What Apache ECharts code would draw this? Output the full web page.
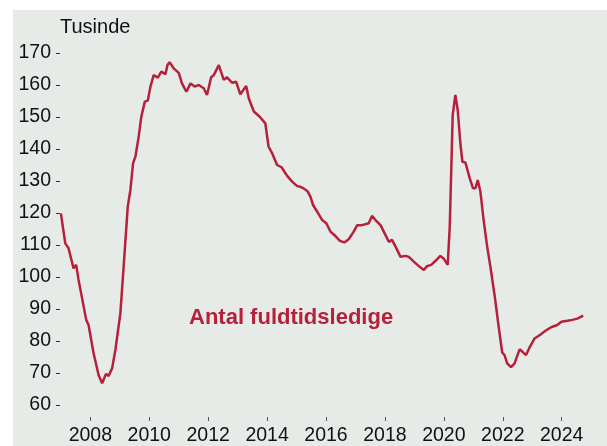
<!DOCTYPE html>
<html>
<head>
<meta charset="utf-8">
<script src="https://cdn.jsdelivr.net/npm/echarts@6/dist/echarts.min.js"></script>
<style>
html,body{margin:0;padding:0;background:#fff;}
#chart{width:607px;height:446px;}
</style>
</head>
<body>
<div id="chart"></div>
<script>
// Decimal year of each observation
var years = [
2007.00,2007.15,2007.26,2007.43,2007.52,2007.60,2007.86,2007.94,2008.11,2008.28,
2008.40,2008.45,2008.53,2008.62,2008.74,2008.85,2009.02,2009.13,2009.27,2009.36,
2009.45,2009.53,2009.64,2009.73,2009.85,2009.95,2010.04,2010.15,2010.20,2010.29,
2010.41,2010.47,2010.55,2010.62,2010.69,2010.83,2011.00,2011.11,2011.26,2011.40,
2011.54,2011.68,2011.85,2011.96,2012.10,2012.19,2012.36,2012.53,2012.64,2012.81,
2012.95,2013.09,2013.29,2013.38,2013.55,2013.75,2013.94,2014.05,2014.17,2014.34,
2014.49,2014.68,2014.85,2015.02,2015.13,2015.24,2015.38,2015.47,2015.56,2015.70,
2015.87,2016.01,2016.15,2016.32,2016.47,2016.62,2016.77,2016.94,2017.06,2017.22,
2017.45,2017.56,2017.68,2017.85,2018.02,2018.13,2018.24,2018.36,2018.53,2018.70,
2018.81,2018.98,2019.15,2019.32,2019.43,2019.57,2019.71,2019.88,2019.99,2020.13,
2020.20,2020.30,2020.39,2020.47,2020.56,2020.63,2020.73,2020.88,2020.99,2021.07,
2021.15,2021.24,2021.35,2021.47,2021.58,2021.73,2021.86,2021.98,2022.06,2022.15,
2022.28,2022.40,2022.57,2022.66,2022.79,2022.92,2023.08,2023.26,2023.45,2023.64,
2023.85,2023.99,2024.19,2024.36,2024.53,2024.73
];
// Antal fuldtidsledige, tusinde
var ledige = [
119.9,110.5,109.0,102.7,103.8,99.1,86.6,85.0,76.2,69.4,
66.8,66.7,69.7,69.1,71.5,77.2,88.7,103.2,122.0,127.2,
135.5,137.6,143.8,150.1,154.8,155.1,159.5,163.1,163.4,162.3,
164.2,164.4,163.4,166.3,167.1,165.2,163.8,160.5,157.9,160.5,
159.5,160.0,159.0,156.9,162.4,163.1,166.2,161.6,162.4,160.7,
161.0,157.1,159.7,155.8,151.7,150.1,148.0,140.7,138.7,135.0,
134.3,131.6,129.8,128.4,128.2,127.7,126.7,125.1,122.5,120.4,
117.8,116.8,114.2,112.8,111.3,110.8,111.8,114.2,116.2,116.2,
116.8,119.1,117.8,116.2,113.1,111.0,111.6,109.5,106.3,106.6,
106.3,104.8,103.4,102.2,103.4,103.8,105.0,106.6,105.8,103.8,
115.7,150.6,156.9,152.2,141.8,136.0,135.8,130.8,127.7,127.7,
130.3,126.7,117.8,109.5,103.2,93.8,84.5,76.4,75.6,73.0,
71.8,73.0,77.4,76.7,75.6,78.2,80.8,81.9,83.2,84.3,
85.0,86.0,86.3,86.6,87.0,87.9
];
var xTicks = [2008,2010,2012,2014,2016,2018,2020,2022,2024];
var yTicks = [60,70,80,90,100,110,120,130,140,150,160,170];
var unitLabel = 'Tusinde';
var seriesLabel = 'Antal fuldtidsledige';

var RED = '#b5203a';
var FONT = '"Liberation Sans", Arial, Helvetica, sans-serif';

var data = years.map(function(y, i){ return [y, ledige[i]]; });

var chart = echarts.init(document.getElementById('chart'), null, {renderer:'canvas'});
chart.setOption({
  backgroundColor: '#e7ebe8',
  animation: false,
  textStyle: {fontFamily: FONT},
  grid: {left: 60, right: 7, top: 10, bottom: 29, containLabel: false},
  xAxis: {
    type: 'value',
    min: 2006.97,
    max: 2025.3,
    axisLine: {show: false},
    splitLine: {show: false},
    axisTick: {show: true, customValues: xTicks, length: 4, inside: false,
      lineStyle: {color: '#555', width: 1}},
    axisLabel: {customValues: xTicks, margin: 9, color: '#111', fontSize: 19.5,
      fontFamily: FONT, formatter: function(v){ return String(v); }}
  },
  yAxis: {
    type: 'value',
    min: 56.25,
    max: 183.44,
    axisLine: {show: false},
    splitLine: {show: false},
    axisTick: {show: true, customValues: yTicks, length: 4, inside: false,
      lineStyle: {color: '#333', width: 1}},
    axisLabel: {customValues: yTicks, margin: 9, color: '#111', fontSize: 19.5,
      fontFamily: FONT, formatter: function(v){ return String(v); }}
  },
  graphic: [
    {type: 'rect', shape: {x: 0, y: 0, width: 607, height: 10}, style: {fill: '#ffffff'}, silent: true},
    {type: 'rect', shape: {x: 0, y: 0, width: 13, height: 446}, style: {fill: '#ffffff'}, silent: true},
    {type: 'text', left: 60, top: 17, style: {text: unitLabel, fontSize: 20, fill: '#111', fontFamily: FONT}},
    {type: 'text', left: 189, top: 307, style: {text: seriesLabel, fontSize: 22, fontWeight: 'bold', fill: RED, fontFamily: FONT}}
  ],
  series: [{
    type: 'line',
    data: data,
    showSymbol: false,
    symbol: 'none',
    lineStyle: {color: RED, width: 2.5},
    clip: false
  }]
});
</script>
</body>
</html>
